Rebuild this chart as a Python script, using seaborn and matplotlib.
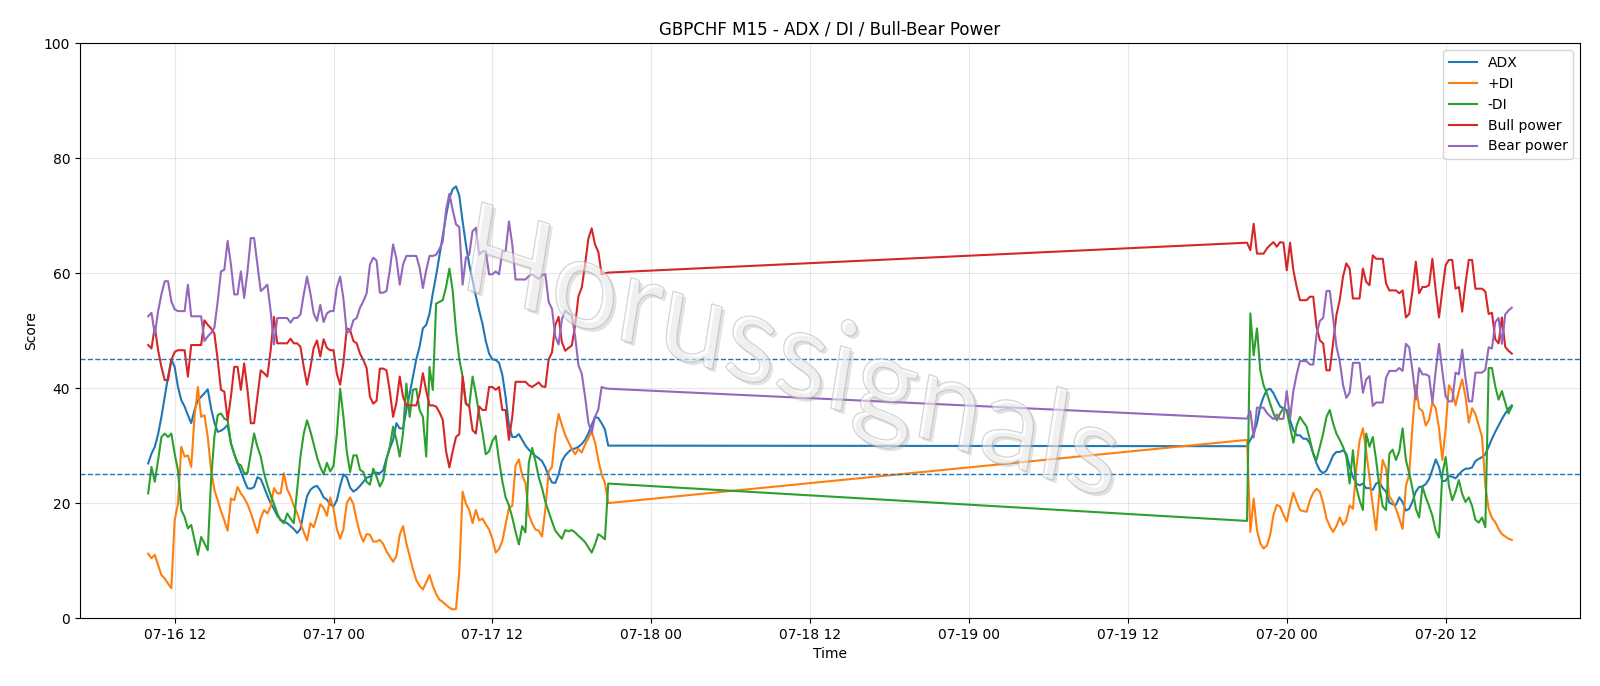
"""
GBPCHF M15 - ADX / DI / Bull-Bear Power chart
"""

import pandas as pd
import numpy as np
import matplotlib
matplotlib.use("Agg")
import matplotlib.pyplot as plt
import seaborn as sns
from matplotlib.textpath import TextPath
from matplotlib.patches import PathPatch
from matplotlib.font_manager import FontProperties
from matplotlib.transforms import Affine2D, IdentityTransform

# --- data: two trading sessions (Thu/Fri and Sun/Mon), 15 minute bars ---
SESSION1_START = "2020-07-16 10:00"
SESSION2_START = "2020-07-19 21:00"

adx_1 = [26.9, 28.6, 29.8, 32.0, 35.0, 38.5, 42.0, 45.0, 43.7, 40.2,
         37.9, 36.8, 35.3, 33.9, 36.2, 37.9, 38.5, 39.1, 39.8, 36.5,
         34.0, 32.4, 32.6, 33.0, 33.6, 30.4, 28.5, 27.0, 25.5, 24.0,
         22.6, 22.5, 22.8, 24.5, 24.2, 22.8, 21.3, 20.0, 19.0, 17.8,
         17.1, 16.8, 16.5, 16.0, 15.5, 14.8, 15.5, 18.5, 21.2, 22.3,
         22.8, 23.0, 22.2, 21.0, 20.6, 19.8, 19.4, 20.5, 23.0, 25.0,
         24.5, 22.7, 22.0, 22.4, 23.0, 23.7, 24.4, 24.6, 25.2, 25.3,
         25.2, 25.7, 27.8, 29.5, 31.0, 33.9, 33.0, 33.0, 36.2, 39.0,
         42.0, 45.0, 47.2, 50.4, 51.0, 53.0, 56.5, 59.6, 63.0, 66.5,
         70.0, 73.0, 74.6, 75.1, 73.5, 69.0, 65.0, 61.5, 58.8, 56.0,
         53.5, 51.2, 48.2, 46.0, 45.0, 44.9, 44.4, 42.3, 38.5, 33.5,
         31.5, 31.5, 32.0, 31.0, 30.0, 29.3, 28.7, 28.2, 27.8, 27.3,
         26.2, 24.7, 23.6, 23.5, 25.0, 27.3, 28.3, 28.9, 29.4, 29.5,
         29.8, 30.3, 31.0, 32.1, 33.6, 35.0, 34.8, 33.9, 32.8, 30.0]

pdi_1 = [11.2, 10.4, 11.0, 9.2, 7.5, 6.9, 6.0, 5.2, 17.0, 19.9,
         29.8, 28.1, 28.3, 26.3, 35.0, 40.2, 35.0, 35.3, 31.5, 25.7,
         22.3, 20.5, 18.6, 17.0, 15.2, 20.8, 20.5, 22.8, 21.7, 20.9,
         19.8, 18.3, 16.5, 14.8, 17.4, 18.8, 18.2, 19.4, 22.6, 21.7,
         21.7, 25.2, 22.4, 21.2, 19.5, 18.3, 16.5, 15.0, 13.5, 16.5,
         15.8, 17.7, 19.8, 19.2, 17.8, 21.0, 19.0, 15.5, 13.8, 15.5,
         20.0, 21.0, 19.8, 17.0, 14.7, 13.3, 14.6, 14.5, 13.3, 13.3,
         13.6, 12.9, 11.6, 10.7, 9.8, 10.8, 14.5, 16.0, 13.0, 10.8,
         8.5, 6.6, 5.6, 5.0, 6.2, 7.5, 5.6, 4.2, 3.2, 2.8,
         2.3, 1.8, 1.5, 1.6, 8.0, 22.0, 19.9, 18.8, 16.5, 18.8,
         17.0, 17.3, 16.3, 15.4, 13.8, 11.4, 12.0, 13.4, 16.3, 19.2,
         19.5, 26.5, 27.6, 24.8, 23.5, 18.0, 16.5, 15.4, 15.2, 14.2,
         19.0, 25.5, 26.3, 32.0, 35.5, 33.6, 31.8, 30.6, 29.4, 28.5,
         29.4, 28.8, 30.2, 31.3, 32.4, 30.6, 27.5, 25.0, 23.5, 20.0]

mdi_1 = [21.7, 26.3, 23.7, 27.5, 31.5, 32.1, 31.5, 32.1, 28.6, 25.7,
         18.8, 17.6, 15.6, 16.2, 13.6, 11.0, 14.1, 13.0, 11.8, 24.0,
         31.5, 35.3, 35.6, 34.7, 34.4, 30.4, 28.6, 26.9, 26.6, 25.2,
         25.2, 28.6, 32.1, 29.8, 28.1, 25.2, 23.1, 21.4, 19.9, 18.2,
         17.0, 16.5, 18.2, 17.3, 16.5, 22.3, 28.1, 32.1, 34.4, 32.5,
         30.3, 28.0, 26.3, 25.0, 27.0, 25.5, 26.5, 32.0, 39.9, 35.0,
         29.0, 25.4, 28.3, 28.3, 25.8, 25.4, 23.7, 23.2, 26.0, 24.6,
         22.9, 24.0, 27.5, 29.8, 33.3, 31.0, 28.1, 32.1, 40.8, 35.0,
         39.7, 39.9, 36.2, 35.0, 28.1, 43.7, 39.7, 54.7, 55.0, 55.3,
         57.6, 60.8, 57.0, 50.0, 45.0, 42.0, 37.3, 36.8, 42.0, 39.0,
         35.5, 32.3, 28.5, 29.0, 30.8, 31.7, 27.5, 23.8, 21.0, 19.6,
         17.5, 15.0, 12.8, 16.0, 14.9, 27.0, 29.6, 27.3, 24.5, 22.6,
         20.2, 18.5, 16.8, 15.2, 14.5, 13.8, 15.3, 15.1, 15.3, 14.9,
         14.3, 13.8, 13.2, 12.3, 11.4, 12.8, 14.6, 14.2, 13.7, 23.4]

bull_1 = [47.5, 46.9, 50.7, 46.6, 43.7, 41.4, 41.4, 44.9, 46.3, 46.6,
          46.6, 46.6, 42.0, 47.5, 47.5, 47.5, 47.5, 51.8, 51.0, 50.4,
          49.5, 44.9, 39.7, 39.4, 34.4, 38.5, 43.7, 43.7, 39.7, 44.3,
          39.7, 33.9, 33.9, 38.5, 43.1, 42.6, 42.0, 46.6, 52.4, 47.8,
          47.8, 47.8, 47.8, 48.6, 47.8, 47.8, 47.2, 43.7, 40.6, 43.5,
          47.0, 48.3, 45.5, 48.5, 47.0, 46.6, 46.6, 42.5, 40.6, 44.5,
          50.4, 50.1, 48.2, 47.8, 46.0, 44.9, 43.5, 38.5, 37.3, 37.8,
          43.4, 43.4, 43.1, 39.5, 35.0, 37.5, 42.0, 38.5, 37.0, 37.0,
          37.0, 37.0, 39.0, 42.6, 39.5, 37.0, 37.0, 36.8, 35.8, 34.5,
          29.0, 26.2, 29.0, 31.5, 32.0, 42.0, 37.3, 36.8, 32.7, 32.1,
          36.8, 36.2, 36.2, 40.2, 40.2, 39.7, 40.2, 36.2, 36.2, 31.0,
          35.0, 41.1, 41.1, 41.1, 41.1, 40.5, 40.2, 40.6, 41.0, 40.3,
          40.2, 45.0, 46.2, 51.0, 52.4, 48.0, 46.5, 47.0, 47.4, 51.0,
          56.0, 57.5, 61.5, 66.0, 67.8, 65.0, 63.7, 59.8, 60.0, 60.1]

bear_1 = [52.5, 53.1, 49.3, 53.4, 56.3, 58.6, 58.6, 55.1, 53.7, 53.4,
          53.4, 53.4, 58.0, 52.5, 52.5, 52.5, 52.5, 48.2, 49.0, 49.6,
          50.5, 55.1, 60.3, 60.6, 65.6, 61.5, 56.3, 56.3, 60.3, 55.7,
          60.3, 66.1, 66.1, 61.5, 56.9, 57.4, 58.0, 53.4, 47.6, 52.2,
          52.2, 52.2, 52.2, 51.4, 52.2, 52.2, 52.8, 56.3, 59.4, 56.5,
          53.0, 51.7, 54.5, 51.5, 53.0, 53.4, 53.4, 57.5, 59.4, 55.5,
          49.6, 49.9, 51.8, 52.2, 54.0, 55.1, 56.5, 61.5, 62.7, 62.2,
          56.6, 56.6, 56.9, 60.5, 65.0, 62.5, 58.0, 61.5, 63.0, 63.0,
          63.0, 63.0, 61.0, 57.4, 60.5, 63.0, 63.0, 63.2, 64.2, 65.5,
          71.0, 73.8, 71.0, 68.5, 68.0, 58.0, 62.7, 63.2, 67.3, 67.9,
          63.2, 63.8, 63.8, 59.8, 59.8, 60.3, 59.8, 63.8, 63.8, 69.0,
          65.0, 58.9, 58.9, 58.9, 58.9, 59.5, 59.8, 59.4, 59.0, 59.7,
          59.8, 55.0, 53.8, 49.0, 47.6, 52.0, 53.5, 53.0, 52.6, 49.0,
          44.0, 42.5, 38.5, 34.0, 32.2, 35.0, 36.3, 40.2, 40.0, 39.9]

adx_2 = [29.9, 31.0, 32.1, 33.9, 36.8, 38.5, 39.7, 39.9, 39.1, 37.9,
         36.8, 36.5, 36.2, 34.4, 32.7, 31.8, 31.8, 31.2, 31.2, 30.4,
         28.6, 26.9, 25.7, 25.2, 25.7, 26.9, 28.3, 28.9, 28.9, 29.2,
         28.6, 26.3, 24.6, 23.4, 23.1, 23.4, 22.6, 22.6, 22.3, 23.4,
         23.7, 22.6, 22.0, 20.1, 19.8, 19.7, 21.0, 20.2, 18.7, 19.0,
         20.3, 22.0, 22.8, 22.9, 23.3, 24.2, 25.8, 27.6, 26.3, 23.8,
         23.9, 24.7, 24.6, 24.3, 25.0, 25.6, 26.0, 26.0, 26.2, 27.3,
         27.7, 28.0, 28.5, 29.8, 31.2, 32.4, 33.5, 34.6, 35.6, 36.4, 37.0]

pdi_2 = [31.0, 15.0, 20.8, 15.3, 13.0, 12.1, 12.6, 14.5, 18.0, 19.7,
         19.4, 18.0, 16.8, 19.5, 21.8, 20.2, 18.8, 18.6, 18.5, 20.5,
         21.8, 22.5, 22.0, 20.0, 17.3, 16.0, 15.0, 16.0, 17.5, 16.2,
         17.0, 19.6, 19.0, 26.0, 30.8, 33.0, 29.0, 24.5, 19.5, 15.3,
         22.0, 27.5, 26.0, 21.2, 20.3, 19.0, 17.3, 15.5, 23.0, 25.0,
         33.5, 40.5, 36.5, 36.0, 33.5, 34.5, 37.5, 36.5, 33.0, 27.5,
         33.0, 40.5, 39.5, 37.0, 39.5, 41.5, 38.5, 34.0, 36.5, 35.5,
         33.5, 31.5, 23.0, 19.0, 17.4, 16.7, 15.5, 14.6, 14.2, 13.8, 13.6]

mdi_2 = [16.9, 53.0, 45.7, 50.4, 43.1, 40.5, 39.1, 37.3, 35.6, 34.4,
         35.6, 36.5, 36.0, 33.3, 30.5, 33.5, 35.0, 34.1, 33.3, 31.0,
         28.6, 27.5, 29.8, 32.1, 35.0, 36.2, 33.9, 32.1, 31.0, 29.8,
         28.1, 23.4, 29.2, 22.8, 20.5, 18.8, 32.1, 29.8, 31.5, 27.5,
         22.8, 19.4, 18.8, 28.6, 29.3, 27.5, 29.0, 33.0, 27.5, 25.2,
         22.5, 19.0, 17.5, 22.9, 21.0, 19.5, 17.8, 15.2, 14.0, 25.0,
         28.0, 23.0, 20.5, 22.0, 24.0, 21.6, 20.2, 21.0, 19.5, 17.1,
         16.6, 17.5, 15.8, 43.5, 43.5, 40.3, 38.0, 39.5, 37.5, 35.6, 36.8]

bull_2 = [65.3, 64.0, 68.6, 63.4, 63.4, 63.4, 64.3, 64.9, 65.4, 64.6,
          65.4, 65.3, 60.5, 65.3, 60.5, 57.6, 55.3, 55.3, 55.3, 55.9,
          55.9, 50.7, 48.3, 47.8, 43.1, 43.1, 47.8, 52.7, 55.3, 59.4,
          61.7, 60.8, 55.6, 55.6, 55.6, 60.8, 58.5, 57.9, 63.1, 62.5,
          62.5, 62.5, 58.2, 57.0, 57.0, 57.0, 56.5, 57.0, 52.3, 52.9,
          57.0, 62.0, 56.5, 57.6, 57.6, 57.9, 62.5, 57.0, 52.3, 57.0,
          61.4, 62.3, 62.3, 57.3, 57.6, 53.3, 58.2, 62.3, 62.3, 57.3,
          57.3, 57.3, 56.8, 52.9, 53.1, 48.5, 47.8, 52.3, 47.2, 46.5, 46.0]

bear_2 = [34.7, 36.0, 31.4, 36.6, 36.6, 36.6, 35.7, 35.1, 34.6, 35.4,
          34.6, 34.7, 39.5, 34.7, 39.5, 42.4, 44.7, 44.7, 44.7, 44.1,
          44.1, 49.3, 51.7, 52.2, 56.9, 56.9, 52.2, 47.3, 44.7, 40.6,
          38.3, 39.2, 44.4, 44.4, 44.4, 39.2, 41.5, 42.1, 36.9, 37.5,
          37.5, 37.5, 41.8, 43.0, 43.0, 43.0, 43.5, 43.0, 47.7, 47.1,
          43.0, 38.0, 43.5, 42.4, 42.4, 42.1, 37.5, 43.0, 47.7, 43.0,
          38.6, 37.7, 37.7, 42.7, 42.4, 46.7, 41.8, 37.7, 37.7, 42.7,
          42.7, 42.7, 43.2, 47.1, 46.9, 51.5, 52.2, 47.7, 52.8, 53.5, 54.0]

SERIES = ["ADX", "+DI", "-DI", "Bull power", "Bear power"]
COLORS = ["#1f77b4", "#ff7f0e", "#2ca02c", "#d62728", "#9467bd"]
THRESHOLDS = [25, 45]
WATERMARK = "Horussignals"


def build_frame():
    t1 = pd.date_range(SESSION1_START, periods=len(adx_1), freq="15min")
    t2 = pd.date_range(SESSION2_START, periods=len(adx_2), freq="15min")
    df = pd.DataFrame({
        "Time": t1.append(t2),
        "ADX": adx_1 + adx_2,
        "+DI": pdi_1 + pdi_2,
        "-DI": mdi_1 + mdi_2,
        "Bull power": bull_1 + bull_2,
        "Bear power": bear_1 + bear_2,
    })
    return df


def add_watermark(fig):
    """Sheared, lightly shadowed watermark text laid over the plot"""
    tp = TextPath((0, 0), WATERMARK, size=100,
                  prop=FontProperties(family="Lato", weight="normal"))
    ext = tp.get_extents()
    s = 640 / ext.width
    base = Affine2D().translate(-ext.x0, 0).scale(s, s * 1.05).skew_deg(9, -18)
    main_path = (base + Affine2D().translate(468, 396)).transform_path(tp)
    shadow_path = (base + Affine2D().translate(471, 393)).transform_path(tp)
    fig.add_artist(PathPatch(shadow_path, transform=IdentityTransform(),
                             facecolor="#a0a0a0", edgecolor="none", alpha=0.3, zorder=5))
    fig.add_artist(PathPatch(main_path, transform=IdentityTransform(),
                             facecolor="white", edgecolor="#aaaaaa", linewidth=0.9,
                             alpha=0.5, zorder=6))


def main():
    df = build_frame()

    fig, ax = plt.subplots(figsize=(16, 6.86), dpi=100)
    fig.subplots_adjust(left=0.05, right=0.9875, bottom=0.099, top=0.937)

    for name, color in zip(SERIES, COLORS):
        sns.lineplot(data=df, x="Time", y=name, ax=ax, color=color, label=name,
                     linewidth=1.5)

    for level in THRESHOLDS:
        ax.axhline(level, linestyle="--", linewidth=1, color="#1f77b4")

    ax.set_ylim(0, 100)
    ax.set_title("GBPCHF M15 - ADX / DI / Bull-Bear Power")
    ax.set_xlabel("Time")
    ax.set_ylabel("Score")
    ax.grid(True, alpha=0.3)
    ax.legend(loc="upper right")

    add_watermark(fig)

    fig.savefig("out.png", dpi=100)
    plt.close(fig)


if __name__ == "__main__":
    main()
